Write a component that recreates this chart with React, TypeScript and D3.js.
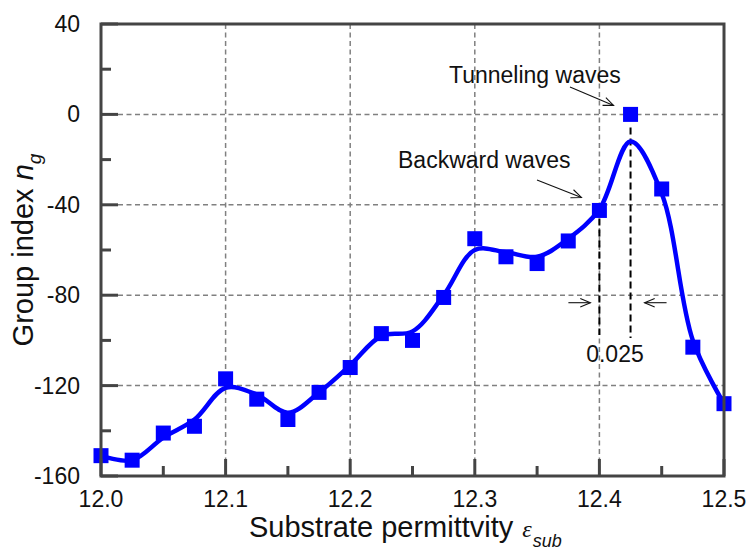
import React from "react";
import * as d3 from "d3";

// ---- data ----
const permittivity = [12.0, 12.025, 12.05, 12.075, 12.1, 12.125, 12.15, 12.175, 12.2, 12.225, 12.25, 12.275, 12.3, 12.325, 12.35, 12.375, 12.4, 12.425, 12.45, 12.475, 12.5];
const groupIndex = [-151, -153, -141, -138, -117, -126, -135, -123, -112, -97, -100, -81, -55, -63, -66, -56, -42.5, 0, -33, -103, -128];
const fitGroupIndex = [-151, -153, -143, -135, -121, -124, -132, -123, -111, -98, -96, -80, -60, -61, -63, -55, -42, -12, -35, -100, -128];
const xTicks = [12.0, 12.1, 12.2, 12.3, 12.4, 12.5];
const xMinorTicks = [12.05, 12.15, 12.25, 12.35, 12.45];
const yTicks = [40, 0, -40, -80, -120, -160];
const yMinorTicks = [20, -20, -60, -100, -140];
const xGrid = [12.1, 12.2, 12.3, 12.4];
const yGrid = [0, -40, -80, -120];

const W = 753, H = 558;
const M = { left: 101, top: 24, right: 29, bottom: 82 };
const FONT = "'Liberation Sans', Arial, Helvetica, sans-serif";

function Arrow({ x1, y1, x2, y2 }: { x1: number; y1: number; x2: number; y2: number }) {
  const a = Math.atan2(y2 - y1, x2 - x1);
  const L = 11, s = 0.4;
  const p1 = [x2 - L * Math.cos(a - s), y2 - L * Math.sin(a - s)];
  const p2 = [x2 - L * Math.cos(a + s), y2 - L * Math.sin(a + s)];
  return (
    <g stroke="#111" strokeWidth={1.1} fill="none">
      <line x1={x1} y1={y1} x2={x2} y2={y2} />
      <path d={`M${p1[0]},${p1[1]}L${x2},${y2}L${p2[0]},${p2[1]}`} />
    </g>
  );
}

export default function App() {
  const x = d3.scaleLinear().domain([12.0, 12.5]).range([M.left, W - M.right]);
  const y = d3.scaleLinear().domain([-160, 40]).range([H - M.bottom, M.top]);
  const x0 = M.left, x1 = W - M.right, y0 = H - M.bottom, y1 = M.top;

  const line = d3
    .line<number>()
    .x((_, i) => x(permittivity[i]))
    .y((d) => y(d))
    .curve(d3.curveCatmullRom.alpha(0.5));

  const sq = 15;
  const axisColor = "#444";
  const iPeak = groupIndex.indexOf(d3.max(groupIndex) as number);
  const iBack = permittivity.indexOf(12.4);
  const xb = x(permittivity[iBack]);
  const xp = x(permittivity[iPeak]);
  const yArr = y(-80) + 7.5;

  return (
    <div style={{ position: "absolute", left: 0, top: 0 }}>
      <svg width={W} height={H} style={{ display: "block", background: "#fff" }} fontFamily={FONT}>
        {/* grid */}
        <g stroke="#808080" strokeWidth={1.5} strokeDasharray="5,3.5">
          {xGrid.map((v) => (
            <line key={"gx" + v} x1={x(v)} x2={x(v)} y1={y1} y2={y0} />
          ))}
          {yGrid.map((v) => (
            <line key={"gy" + v} x1={x0} x2={x1} y1={y(v)} y2={y(v)} />
          ))}
        </g>

        {/* black dashed markers */}
        <g stroke="#000" strokeWidth={2} strokeDasharray="7,4">
          <line x1={xb} x2={xb} y1={y(groupIndex[iBack]) + 8} y2={335} />
          <line x1={xp} x2={xp} y1={y(fitGroupIndex[iPeak]) - 14} y2={338} />
        </g>

        {/* curve */}
        <path d={line(fitGroupIndex) || ""} fill="none" stroke="#0000ff" strokeWidth={4.5} strokeLinejoin="round" />
        {/* squares */}
        <g fill="#0000ff">
          {groupIndex.map((v, i) => (
            <rect key={i} x={x(permittivity[i]) - sq / 2} y={y(v) - sq / 2} width={sq} height={sq} />
          ))}
        </g>

        {/* frame */}
        <rect x={x0} y={y1} width={x1 - x0} height={y0 - y1} fill="none" stroke={axisColor} strokeWidth={3} />

        {/* ticks */}
        <g stroke={axisColor} strokeWidth={3}>
          {xTicks.map((v) => (
            <line key={"xt" + v} x1={x(v)} x2={x(v)} y1={y0} y2={y0 - 17} />
          ))}
          {xMinorTicks.map((v) => (
            <line key={"xm" + v} x1={x(v)} x2={x(v)} y1={y0} y2={y0 - 10} />
          ))}
          {yTicks.map((v) => (
            <line key={"yt" + v} x1={x0} x2={x0 + 17} y1={y(v)} y2={y(v)} />
          ))}
          {yMinorTicks.map((v) => (
            <line key={"ym" + v} x1={x0} x2={x0 + 10} y1={y(v)} y2={y(v)} />
          ))}
        </g>

        {/* tick labels */}
        <g fontSize={23} fill="#111">
          {xTicks.map((v) => (
            <text key={"xl" + v} x={x(v)} y={507} textAnchor="middle">
              {v.toFixed(1)}
            </text>
          ))}
          {yTicks.map((v) => (
            <text key={"yl" + v} x={80} y={y(v) + 8} textAnchor="end">
              {v}
            </text>
          ))}
        </g>

        {/* axis titles */}
        <text x={249} y={537} fontSize={29} fill="#111">
          Substrate permittvity
          <tspan dx={9} fontFamily="'Liberation Serif', 'Times New Roman', serif" fontStyle="italic" fontSize={24}>
            ε
          </tspan>
          <tspan dx={1} dy={10} fontStyle="italic" fontSize={18}>
            sub
          </tspan>
        </text>
        <text transform={`translate(33,${(y0 + y1) / 2}) rotate(-90)`} textAnchor="middle" fontSize={29} fill="#111">
          Group index <tspan fontStyle="italic">n</tspan>
          <tspan fontStyle="italic" fontSize={19} dy={8}>
            g
          </tspan>
        </text>

        {/* annotations */}
        <g fontSize={23} fill="#111">
          <text x={449} y={83}>Tunneling waves</text>
          <text x={398} y={168}>Backward waves</text>
          <text x={(xb + xp) / 2} y={362} textAnchor="middle">
            0.025
          </text>
        </g>
        <Arrow x1={570} y1={87} x2={xp - 17} y2={y(groupIndex[iPeak]) - 9} />
        <Arrow x1={537} y1={180} x2={xb - 18} y2={y(groupIndex[iBack]) - 13} />
        <Arrow x1={xb - 31} y1={yArr} x2={xb - 9} y2={yArr} />
        <Arrow x1={xp + 36} y1={yArr} x2={xp + 14} y2={yArr} />
      </svg>
    </div>
  );
}
